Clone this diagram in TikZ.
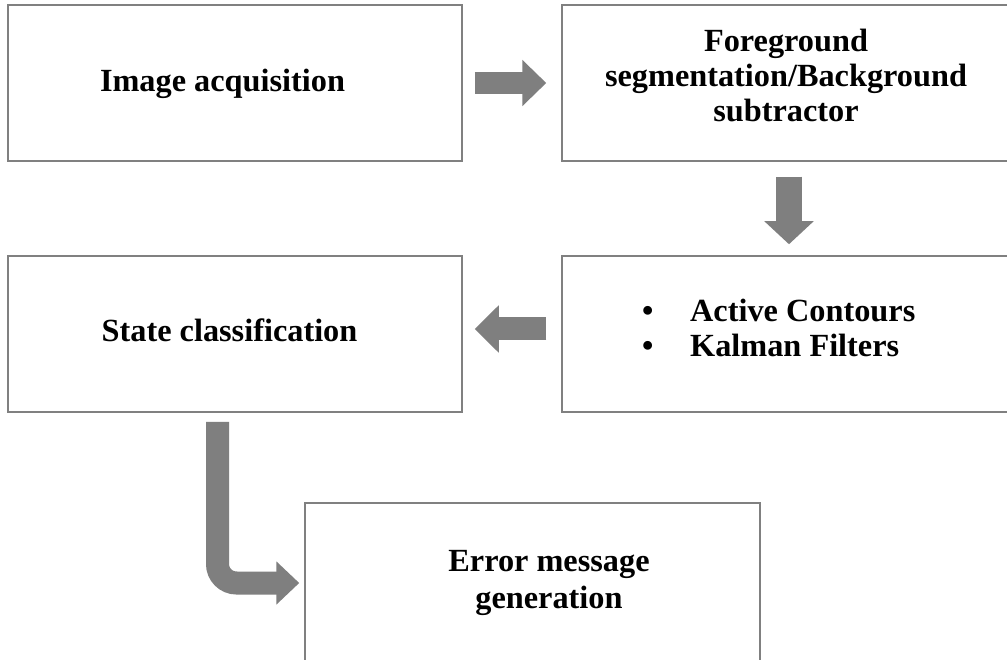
\documentclass[tikz,border=0pt]{standalone}
\usepackage{fontspec}
\setmainfont{Liberation Serif}
\usetikzlibrary{arrows.meta,calc}
\definecolor{edgegray}{HTML}{808080}
\definecolor{arrowgray}{HTML}{7F7F7F}
\begin{document}
\begin{tikzpicture}[x=1pt,y=-1pt,
  box/.style={draw=edgegray,line width=1.5pt,rectangle,inner sep=0pt},
  lbl/.style={font=\fontsize{32.3}{35}\selectfont\bfseries,inner sep=0pt,anchor=base},
  blk/.style={draw=arrowgray,line width=#1}]
\useasboundingbox (0,0) rectangle (1007,660);
\clip (0,0) rectangle (1007,660);
\fill[white] (0,0) rectangle (1007,660);
% boxes
\node[box,minimum width=454pt,minimum height=156pt] (b1) at (235,83) {};
\node[box,minimum width=450pt,minimum height=156pt] (b2) at (787,83) {};
\node[box,minimum width=454pt,minimum height=156pt] (b3) at (235,334) {};
\node[box,minimum width=450pt,minimum height=156pt] (b4) at (787,334) {};
\node[box,minimum width=455pt,minimum height=160pt] (b5) at (532.5,583) {};
% texts
\node[lbl] (t1) at (222.5,92) {Image acquisition};
\node[lbl] (t2) at (786,52) {\begin{tabular}[t]{@{}c@{}}Foreground\\segmentation/Background\\subtractor\end{tabular}};
\node[lbl] (t3) at (229.5,342) {State classification};
\node[lbl,anchor=base west] (t4) at (642,322) {\begin{tabular}[t]{@{}l@{}l@{}}\makebox[48pt][l]{\textbullet} & Active Contours\\ \makebox[48pt][l]{\textbullet} & Kalman Filters\end{tabular}};
\node[lbl,font=\fontsize{32.3}{37}\selectfont\bfseries] (t5) at (549,571) {\begin{tabular}[t]{@{}c@{}}Error message\\generation\end{tabular}};
% arrows
\coordinate (c2) at (789,0);
\coordinate (c5) at (217.5,0);
\draw[blk=22pt,-{Triangle[length=24pt 0,width=45pt 0]}] ($(b1.east)+(12,0)$) -- ($(b2.west)+(-15,0)$);
\draw[blk=26pt,-{Triangle[length=23pt 0,width=48pt 0]}] ($(b2.south -| c2)+(0,15)$) -- ($(b4.north -| c2)+(0,-11)$);
\draw[blk=23pt,-{Triangle[length=24pt 0,width=46pt 0]}] ($(b4.west)+(-15,-5)$) -- ($(b3.east)+(12,-5)$);
\draw[blk=23pt,rounded corners=19pt,-{Triangle[length=23pt 0,width=42pt 0]}] ($(b3.south -| c5)+(0,9)$) |- ($(b5.west)+(-5,0)$);
\end{tikzpicture}
\end{document}
